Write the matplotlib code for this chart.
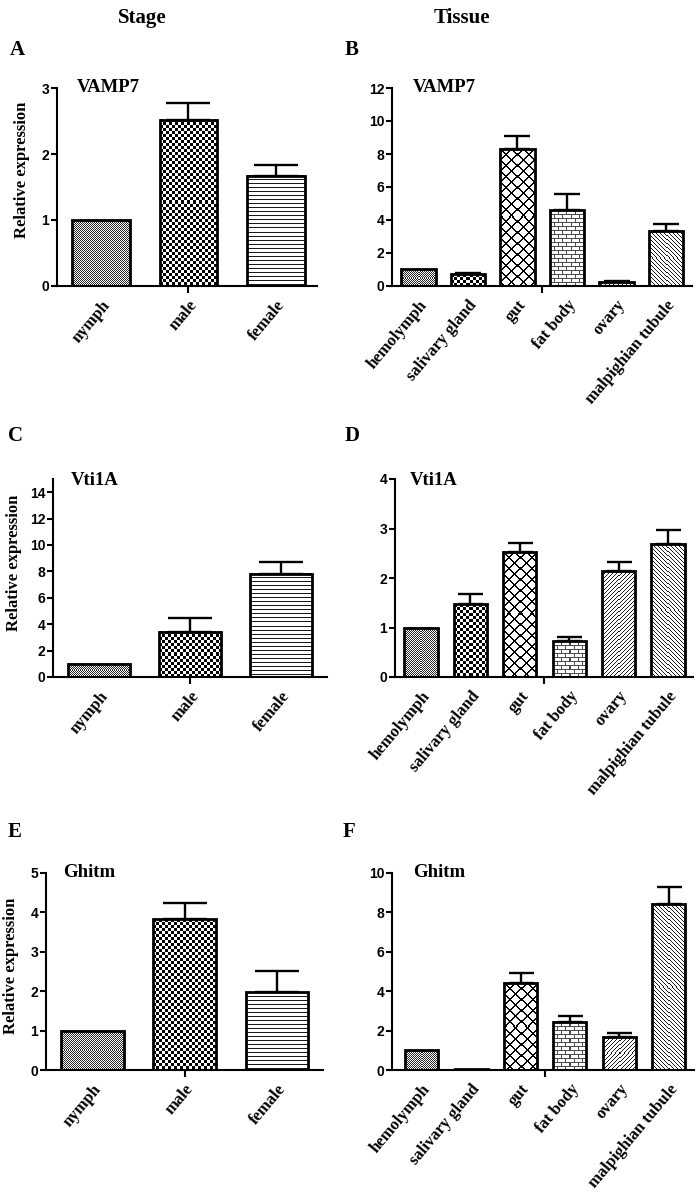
import numpy as np
import matplotlib
matplotlib.use("Agg")
import matplotlib.pyplot as plt

# ---------------- data ----------------
stage_categories = ["nymph", "male", "female"]
tissue_categories = ["hemolymph", "salivary gland", "gut", "fat body", "ovary", "malpighian tubule"]

vamp7_stage = [1.0, 2.52, 1.67]
vamp7_stage_err = [0.0, 0.25, 0.16]
vamp7_tissue = [1.0, 0.72, 8.33, 4.60, 0.24, 3.34]
vamp7_tissue_err = [0.0, 0.08, 0.76, 0.98, 0.06, 0.40]

vti1a_stage = [1.0, 3.42, 7.82]
vti1a_stage_err = [0.0, 1.02, 0.88]
vti1a_tissue = [1.0, 1.47, 2.53, 0.72, 2.14, 2.69]
vti1a_tissue_err = [0.0, 0.20, 0.18, 0.08, 0.19, 0.28]

ghitm_stage = [1.0, 3.83, 1.97]
ghitm_stage_err = [0.0, 0.42, 0.55]
ghitm_tissue = [1.0, 0.05, 4.42, 2.42, 1.68, 8.43]
ghitm_tissue_err = [0.0, 0.0, 0.50, 0.32, 0.18, 0.85]

stage_patterns = ["fine", "checker", "hline"]
tissue_patterns = ["fine", "checker", "diamond", "brick", "fdiag", "bdiag"]

W, H, DPI = 697, 1196, 100
SERIF = "Liberation Serif"
SANS = "Liberation Sans"

plt.rcParams["font.family"] = SANS
plt.rcParams["font.weight"] = "bold"

fig = plt.figure(figsize=(W / DPI, H / DPI), dpi=DPI)


def make_pattern(kind, w, h):
    i, j = np.mgrid[0:h, 0:w]
    arr = np.ones((h, w))
    if kind == "fine":
        arr[(i + j) % 2 == 0] = 0.15
    elif kind == "checker":
        arr[((i // 3) + (j // 3)) % 2 == 0] = 0.0
    elif kind == "hline":
        arr[i % 4 == 0] = 0.1
    elif kind == "diamond":
        arr[((i + j) % 11 < 2) | ((i - j) % 11 < 2)] = 0.0
    elif kind == "brick":
        arr[(i % 4 == 0)] = 0.3
        arr[((j + 4 * ((i // 4) % 2)) % 8 == 0)] = 0.3
    elif kind == "fdiag":
        arr[(i + j) % 4 == 0] = 0.1
    elif kind == "bdiag":
        arr[(i - j) % 4 == 0] = 0.1
    return arr


def panel(rect_px, ymax, ystep, xlim, width, cats, vals, errs, pats, cap):
    left, right, y0, ytop = rect_px
    ax = fig.add_axes([left / W, 1 - y0 / H, (right - left) / W, (y0 - ytop) / H])
    x = np.arange(len(cats))
    ax.set_xlim(*xlim)
    ax.set_ylim(0, ymax)
    bars = ax.bar(x, vals, width, facecolor="none", edgecolor="black",
                  linewidth=2.0, zorder=3)
    for b, v, kind in zip(bars, vals, pats):
        x0 = b.get_x()
        x1 = x0 + b.get_width()
        p0 = ax.transData.transform((x0, 0))
        p1 = ax.transData.transform((x1, v))
        wpx = int(round(p1[0] - p0[0]))
        hpx = int(round(p1[1] - p0[1]))
        if wpx < 1 or hpx < 2:
            continue
        arr = make_pattern(kind, wpx, hpx)
        ax.imshow(arr, cmap="gray", vmin=0, vmax=1, extent=(x0, x1, 0, v),
                  aspect="auto", interpolation="nearest", zorder=2)
    for xi, v, e in zip(x, vals, errs):
        if e > 0:
            ax.errorbar(xi, v, yerr=[[0], [e]], fmt="none", ecolor="black",
                        elinewidth=1.7, capsize=cap, capthick=1.7, zorder=4)
    ax.set_xlim(*xlim)
    ax.set_ylim(0, ymax)
    for s in ["top", "right"]:
        ax.spines[s].set_visible(False)
    for s in ["left", "bottom"]:
        ax.spines[s].set_linewidth(1.5)
    ax.set_yticks(np.arange(0, ymax + 0.001, ystep))
    ax.tick_params(axis="y", direction="out", length=4, width=1.5, pad=1.5,
                   labelsize=10)
    ax.set_xticks(x)
    ax.set_xticklabels(cats, rotation=50, ha="right", rotation_mode="anchor",
                       fontfamily=SERIF, fontweight="bold", fontsize=12)
    ax.xaxis.remove_overlapping_locs = False
    ax.set_xticks([(len(cats) - 1) / 2], minor=True)
    ax.tick_params(axis="x", which="major", length=0, pad=8)
    ax.tick_params(axis="x", which="minor", length=5, width=1.5, direction="out")
    ax.set_facecolor("none")
    return ax


def ftext(x, y, s, **kw):
    fig.text(x / W, 1 - y / H, s, **kw)


# Panels
panel((57, 317, 286, 88), 3, 1, (-0.503, 2.47), 0.66,
      stage_categories, vamp7_stage, vamp7_stage_err, stage_patterns, 16)
panel((392, 692, 286, 88), 12, 2, (-0.535, 5.525), 0.69,
      tissue_categories, vamp7_tissue, vamp7_tissue_err, tissue_patterns, 9.5)
panel((53, 327, 677, 479), 15, 2, (-0.507, 2.51), 0.68,
      stage_categories, vti1a_stage, vti1a_stage_err, stage_patterns, 16)
panel((395, 693, 677, 479), 4, 1, (-0.526, 5.506), 0.67,
      tissue_categories, vti1a_tissue, vti1a_tissue_err, tissue_patterns, 9)
panel((46, 323, 1070, 873), 5, 1, (-0.504, 2.5), 0.68,
      stage_categories, ghitm_stage, ghitm_stage_err, stage_patterns, 16)
panel((392, 694, 1070, 873), 10, 2, (-0.6, 5.51), 0.67,
      tissue_categories, ghitm_tissue, ghitm_tissue_err, tissue_patterns, 9)

# gene titles
for (x, y, s) in [(77, 92, "VAMP7"), (413, 92, "VAMP7"), (71, 485, "Vti1A"),
                  (410, 485, "Vti1A"), (63, 877, "Ghitm"), (413, 877, "Ghitm")]:
    ftext(x, y, s, fontfamily=SERIF, fontweight="bold", fontsize=13.5,
          ha="left", va="baseline")

# y labels
for (x, y) in [(22, 170), (14, 563), (11, 966)]:
    ftext(x, y, "Relative expression", fontfamily=SERIF, fontweight="bold",
          fontsize=12, rotation=90, ha="center", va="center")

# panel letters
for (x, y, s) in [(10, 50, "A"), (345, 50, "B"), (8, 436, "C"),
                  (345, 436, "D"), (8, 832, "E"), (343, 832, "F")]:
    ftext(x, y, s, fontfamily=SERIF, fontweight="bold", fontsize=15,
          ha="left", va="center")

# column headers
ftext(142, 18, "Stage", fontfamily=SERIF, fontweight="bold", fontsize=15,
      ha="center", va="center")
ftext(462, 18, "Tissue", fontfamily=SERIF, fontweight="bold", fontsize=15,
      ha="center", va="center")

fig.savefig("out.png", dpi=DPI, facecolor="white")
